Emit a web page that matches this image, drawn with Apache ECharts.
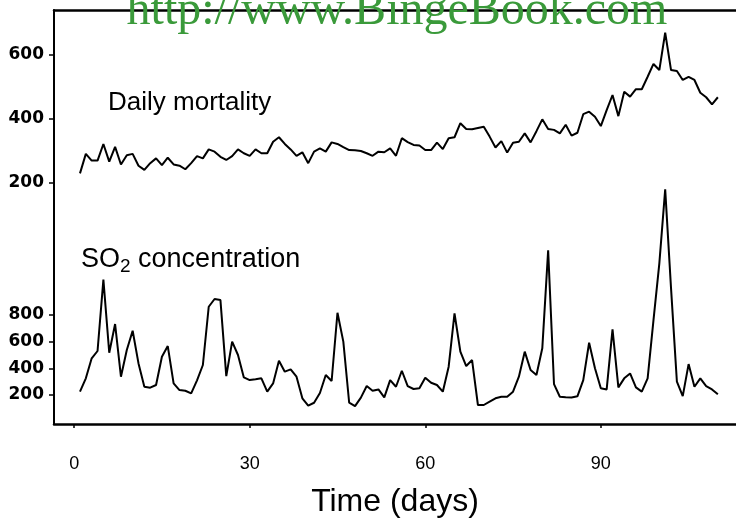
<!DOCTYPE html>
<html><head><meta charset="utf-8">
<script src="https://cdn.jsdelivr.net/npm/echarts@6/dist/echarts.min.js"></script>
<style>html,body{margin:0;padding:0;background:#fff}#c{width:736px;height:523px}</style>
</head><body><div id="c"></div>
<script>
const days = [1,2,3,4,5,6,7,8,9,10,11,12,13,14,15,16,17,18,19,20,21,22,23,24,25,26,27,28,29,30,
31,32,33,34,35,36,37,38,39,40,41,42,43,44,45,46,47,48,49,50,51,52,53,54,55,56,57,58,59,60,
61,62,63,64,65,66,67,68,69,70,71,72,73,74,75,76,77,78,79,80,81,82,83,84,85,86,87,88,89,90,
91,92,93,94,95,96,97,98,99,100,101,102,103,104,105,106,107,108,109,110];
const mortality = [230,291,270,270,322,267,313,258,287,291,
 254,241,262,277,256,279,258,254,243,262,
 284,277,305,298,282,272,284,305,293,285,
 305,293,293,329,343,322,305,285,296,262,
 298,308,298,327,322,312,303,302,300,293,
 285,298,296,308,285,340,328,319,317,303,
 303,326,306,340,343,387,369,368,372,376,
 345,311,331,295,326,329,355,327,362,399,
 369,366,355,382,348,357,415,423,407,378,
 428,475,409,485,470,493,493,532,572,553,
 670,553,550,522,532,522,482,468,446,468];
const so2 = [225,325,475,530,1065,517,732,337,537,682,
 437,262,255,275,487,567,287,237,232,212,
 310,425,862,920,912,342,600,500,332,312,
 318,325,225,287,457,375,392,337,175,120,
 142,215,350,305,817,600,142,117,180,267,
 232,242,182,312,262,382,267,245,250,330,
 292,275,225,412,812,525,417,462,125,125,
 150,175,187,187,225,337,525,387,350,550,
 1285,282,187,183,182,190,312,592,400,250,
 242,692,257,325,362,257,225,325,762,1187,
 1742,1000,300,192,432,262,325,267,242,205];
const xTicks = [0,30,60,90];
const mortalityTicks = [200,400,600];
const so2Ticks = [200,400,600,800];
const xTitle = 'Time (days)';
const mortalityLabel = 'Daily mortality';
const watermark = 'http://www.BingeBook.com';

const chart = echarts.init(document.getElementById('c'), null, {renderer:'canvas'});
const xRange = {min:-3.44, max:113.1};
const mortalityData = days.map((d,i)=>[d, mortality[i]]);
const so2Data = days.map((d,i)=>[d, so2[i]]);
const yLabel = {fontSize:17, fontWeight:'bold', fontFamily:'DejaVu Sans', color:'#000', margin:10};
chart.setOption({
  animation:false,
  backgroundColor:'#fff',
  grid:{left:54, right:0, top:10, bottom:99, containLabel:false},
  xAxis:[
    {type:'value', position:'bottom', min:xRange.min, max:xRange.max,
     axisLine:{show:true, onZero:false, lineStyle:{color:'#000', width:2.5}},
     axisTick:{show:true, customValues:xTicks, length:4, lineStyle:{color:'#000', width:1.5}},
     axisLabel:{customValues:xTicks, margin:31, fontSize:18, color:'#000', fontFamily:'Liberation Sans'},
     splitLine:{show:false},
     name:xTitle, nameLocation:'middle', nameGap:62,
     nameTextStyle:{fontSize:32, color:'#000', fontFamily:'Liberation Sans'}},
    {type:'value', position:'top', min:xRange.min, max:xRange.max,
     axisLine:{show:true, onZero:false, lineStyle:{color:'#000', width:2.5}},
     axisTick:{show:false}, axisLabel:{show:false}, splitLine:{show:false}}
  ],
  yAxis:[
    {type:'value', position:'left', min:-553, max:740.6,
     axisLine:{show:true, onZero:false, lineStyle:{color:'#000', width:2}},
     axisTick:{show:true, customValues:mortalityTicks, length:5, lineStyle:{color:'#000', width:1.5}},
     axisLabel:Object.assign({customValues:mortalityTicks}, yLabel),
     splitLine:{show:false}},
    {type:'value', position:'left', min:-17.5, max:3087.5,
     axisLine:{show:false, onZero:false},
     axisTick:{show:true, customValues:so2Ticks, length:5, lineStyle:{color:'#000', width:1.5}},
     axisLabel:Object.assign({customValues:so2Ticks}, yLabel),
     splitLine:{show:false}}
  ],
  series:[
    {type:'line', xAxisIndex:0, yAxisIndex:0, data:mortalityData, symbol:'none',
     lineStyle:{color:'#000', width:2}},
    {type:'line', xAxisIndex:0, yAxisIndex:1, data:so2Data, symbol:'none',
     lineStyle:{color:'#000', width:2}}
  ],
  graphic:[
    {type:'text', x:108, y:103, z:10, style:{text:mortalityLabel, fill:'#000',
      font:'26px "Liberation Sans"', verticalAlign:'middle'}},
    {type:'text', x:81, y:260, z:10, style:{text:'{a|SO}{b|2}{a| concentration}', fill:'#000',
      verticalAlign:'middle',
      rich:{a:{fontSize:27, lineHeight:33, fontFamily:'Liberation Sans', fill:'#000'},
            b:{fontSize:19, lineHeight:19, verticalAlign:'bottom', fontFamily:'Liberation Sans', fill:'#000'}}}},
    {type:'text', x:397, y:11, z:20, style:{text:watermark, fill:'#3a9a3a',
      font:'48px "Liberation Serif"', align:'center', verticalAlign:'middle'}}
  ]
});
</script></body></html>
